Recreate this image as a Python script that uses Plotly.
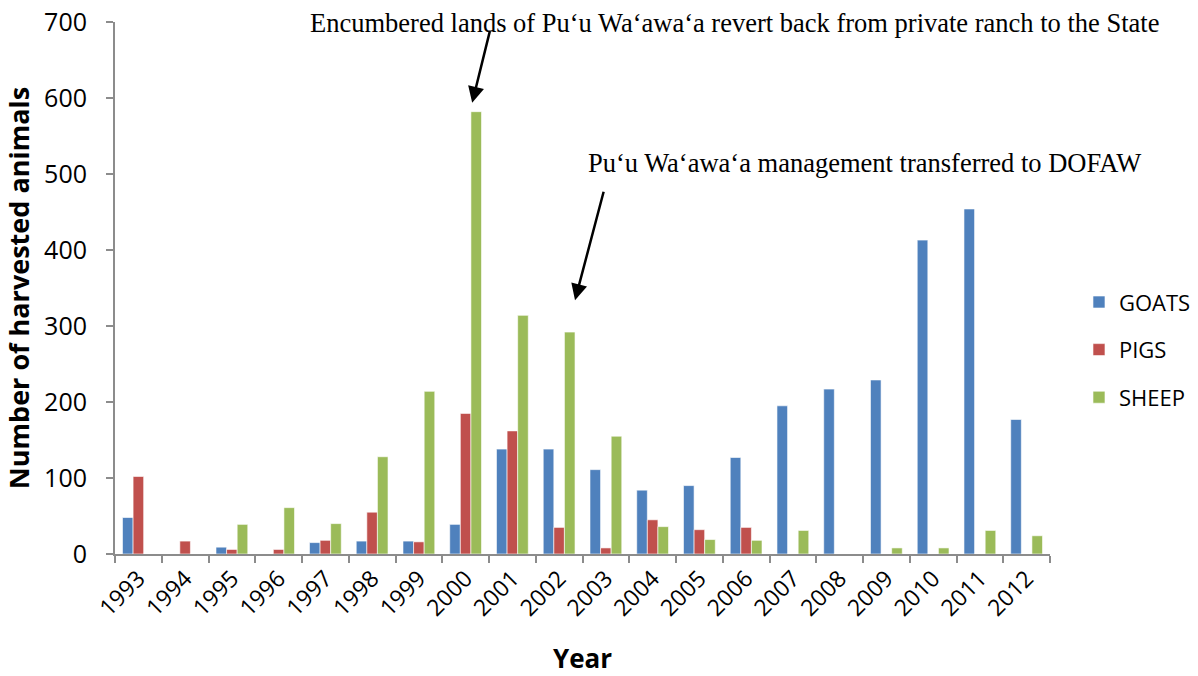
import plotly.graph_objects as go

# 数据
years = [str(y) for y in range(1993, 2013)]
goats = [48, 0, 9, 0, 15, 17, 17, 39, 138, 138, 111, 84, 90, 127, 195, 217, 229, 413, 454, 177]
pigs = [102, 17, 6, 6, 18, 55, 16, 185, 162, 35, 8, 45, 32, 35, 0, 0, 0, 0, 0, 0]
sheep = [0, 0, 39, 61, 40, 128, 214, 582, 314, 292, 155, 36, 19, 18, 31, 0, 8, 8, 31, 24]

series = [
    ("GOATS", goats, "#4F81BD"),
    ("PIGS", pigs, "#C0504D"),
    ("SHEEP", sheep, "#9BBB59"),
]

fig = go.Figure()
for name, vals, color in series:
    fig.add_trace(go.Bar(
        x=years, y=vals, name=name, legendgroup=name,
        marker=dict(color=color, line=dict(color="rgba(255,255,255,0.6)", width=1)),
    ))

sans = "Open Sans, Lato, Arial"
axis_font = dict(family=sans, size=22, color="#000")

fig.update_layout(
    width=1198, height=676,
    margin=dict(l=115, r=148, t=22, b=122, autoexpand=False),
    paper_bgcolor="white", plot_bgcolor="white",
    barmode="group", bargap=0.32, bargroupgap=0,
    font=axis_font,
    showlegend=True,
    legend=dict(
        x=1.031, y=0.384, xanchor="left", yanchor="middle",
        traceorder="grouped", tracegroupgap=16,
        font=dict(family=sans, size=22, color="#000"),
        itemwidth=30,
    ),
    xaxis=dict(
        type="category", tickangle=-45, automargin=False,
        tickfont=dict(family=sans, size=23),
        showline=True, linecolor="#8c8c8c", linewidth=2,
        ticks="outside", tickson="boundaries", tickcolor="#8c8c8c", ticklen=7, tickwidth=2,
        showgrid=False,
        title=dict(text="<b>Year</b>", font=dict(family=sans, size=26), standoff=28),
    ),
    yaxis=dict(
        range=[0, 700], dtick=100, automargin=False,
        tickfont=dict(family=sans, size=25),
        ticklabelstandoff=14, ticklabeloverflow="allow",
        showline=True, linecolor="#8c8c8c", linewidth=2,
        ticks="outside", tickcolor="#8c8c8c", ticklen=7, tickwidth=2,
        showgrid=False, zeroline=False,
        title=dict(text="<b>Number of harvested animals</b>", font=dict(family=sans, size=27), standoff=7),
    ),
)

serif = dict(family="Liberation Serif, Times New Roman, serif", size=26.5, color="#000")

fig.add_annotation(
    text="Encumbered lands of Pu‘u Wa‘awa‘a revert back from private ranch to the State",
    xref="paper", yref="paper", x=0.663, y=0.998, showarrow=False,
    xanchor="center", yanchor="middle", font=serif,
)
fig.add_annotation(
    text="Pu‘u Wa‘awa‘a management transferred to DOFAW",
    xref="paper", yref="paper", x=0.802, y=0.735, showarrow=False,
    xanchor="center", yanchor="middle", font=serif,
)
# 箭头
fig.add_annotation(
    xref="paper", yref="paper", x=0.382, y=0.848, ax=18, ay=-73,
    text="", showarrow=True, arrowhead=2, arrowsize=1.3, arrowwidth=2.5, arrowcolor="#000",
)
fig.add_annotation(
    xref="paper", yref="paper", x=0.492, y=0.477, ax=29, ay=-110,
    text="", showarrow=True, arrowhead=2, arrowsize=1.3, arrowwidth=2.5, arrowcolor="#000",
)

# 去掉页面默认边距，让图表贴齐窗口
fig.write_html(
    "out.html",
    config={"displayModeBar": False},
    post_script="document.body.style.margin='0';",
)
